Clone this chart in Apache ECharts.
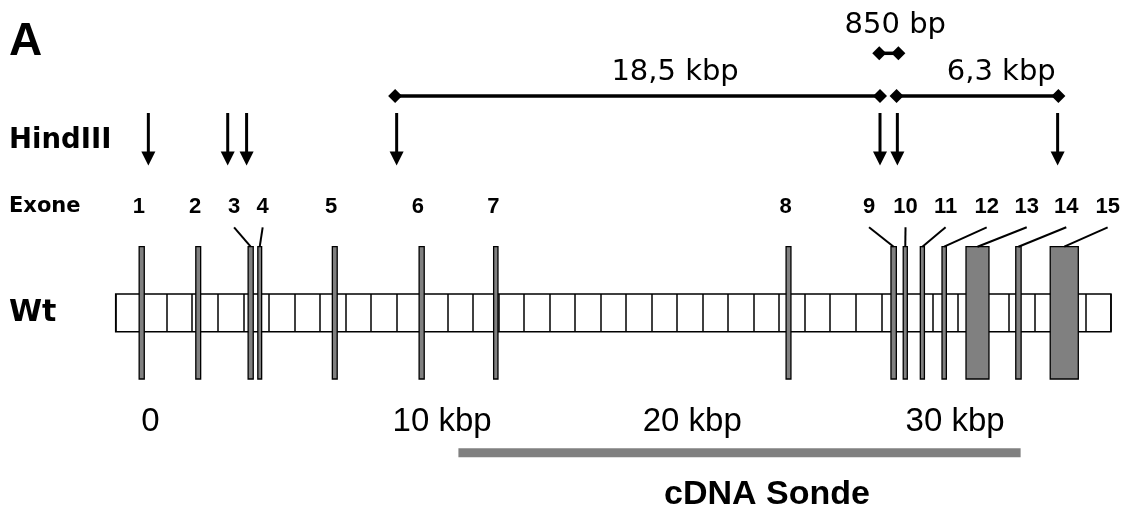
<!DOCTYPE html>
<html><head><meta charset="utf-8">
<script src="https://cdn.jsdelivr.net/npm/echarts@6/dist/echarts.min.js"></script>
<style>html,body{margin:0;padding:0;background:#fff}#c{width:1128px;height:510px}</style>
</head><body><div id="c"></div>
<script>
// ---------------- data (positions in kbp) ----------------
const exonNames    = ['1','2','3','4','5','6','7','8','9','10','11','12','13','14','15'];
const exonStart    = [-0.08, 2.14, 4.19, 4.57, 7.49, 10.89, 13.81, 25.27, 29.38, 29.86, 30.53, 31.38, 32.32, 34.27, 35.62];
const exonEnd      = [ 0.12, 2.33, 4.39, 4.72, 7.68, 11.09, 13.98, 25.46, 29.59, 30.02, 30.69, 31.55, 33.22, 34.48, 36.72];
const exonLabelPos = [-0.09, 2.11, 3.64, 4.76, 7.44, 10.84, 13.80, 25.25, 28.52, 29.95, 31.52, 33.13, 34.70, 36.25, 37.87];
const exonLeader   = [0, 0, 1, 1, 0, 0, 0, 0, 1, 1, 1, 1, 1, 1, 1];

const hindIIISites = [0.28, 3.39, 4.13, 10.01, 28.95, 29.63, 35.91];

const fragmentNames    = ['18,5 kbp', '850 bp', '6,3 kbp'];
const fragmentStart    = [9.95, 28.92, 29.60];
const fragmentEnd      = [28.95, 29.67, 35.94];
const fragmentLabelPos = [20.92, 29.55, 33.70];

const scaleTickLabels = ['0', '10 kbp', '20 kbp', '30 kbp'];
const scaleTickPos    = [0, 9.85, 19.65, 29.95];

const probeName = ['cDNA Sonde'];
const probeStart = [12.43];
const probeEnd = [34.46];
const probeLabelPos = [24.52];

const segmentMin = -1, segmentMax = 38;   // 1-kbp ruler segments of the Wt locus

// ---------------- layout ----------------
const W = 1128, H = 510;
const PX0 = 141.2, PXK = 25.52;      // pixel of 0 kbp, pixels per kbp
const XMIN = -4, XMAX = 38.5;
const gLeft = PX0 + PXK * XMIN;
const gRight = W - (PX0 + PXK * XMAX);
const segLeft = PX0 + PXK * segmentMin;
const segRight = W - (PX0 + PXK * segmentMax);

const ROW = {
  dist: 96, distUpper: 53.3, distLabel: 72.6, distUpperLabel: 25,
  arrowTop: 113, arrowHead: 151.5, arrowTip: 165.5,
  exLabel: 207, leaderTop: 227.3, exTop: 246.7, exBot: 379,
  boxTop: 294, boxH: 37.7,
  scaleLabel: 422, probe: 452.8, probeLabel: 495
};
const fragmentLevel = [0, 1, 0];

const F_REG = '"DejaVu Sans", sans-serif';
const F_ARIAL = '"Liberation Sans", Arial, sans-serif';

const chart = echarts.init(document.getElementById('c'), null, {renderer: 'canvas'});

function diamond(cx, cy, r) {
  return {type: 'polygon', shape: {points: [[cx - r, cy], [cx, cy - r], [cx + r, cy], [cx, cy + r]]}, style: {fill: '#000'}};
}

const option = {
  backgroundColor: '#fff',
  animation: false,
  grid: [
    {left: gLeft, right: gRight, top: 0, height: H, outerBoundsMode: 'none', show: false},
    {left: segLeft, right: segRight, top: ROW.boxTop, height: ROW.boxH, outerBoundsMode: 'none',
     show: true, backgroundColor: '#fff', borderColor: '#000', borderWidth: 1.5}
  ],
  xAxis: [
    {type: 'value', gridIndex: 0, min: XMIN, max: XMAX, show: false},
    {type: 'value', gridIndex: 1, min: segmentMin, max: segmentMax, interval: 1,
     axisLine: {show: false}, axisTick: {show: false}, axisLabel: {show: false},
     splitLine: {show: true, lineStyle: {color: '#000', width: 1.5}}}
  ],
  yAxis: [
    {type: 'value', gridIndex: 0, min: 0, max: H, inverse: true, show: false},
    {type: 'value', gridIndex: 1, min: 0, max: 1, show: false}
  ],
  graphic: [
    {type: 'text', x: 9, y: 42, style: {text: 'A', font: 'bold 46px ' + F_ARIAL, fill: '#000', align: 'left', verticalAlign: 'middle'}},
    {type: 'text', x: 9, y: 141.2, style: {text: 'HindIII', font: 'bold 27.5px ' + F_REG, fill: '#000', align: 'left', verticalAlign: 'middle'}},
    {type: 'text', x: 9, y: 206.6, style: {text: 'Exone', font: 'bold 21px ' + F_REG, fill: '#000', align: 'left', verticalAlign: 'middle'}},
    {type: 'text', x: 9, y: 313.7, style: {text: 'Wt', font: 'bold 30px ' + F_REG, fill: '#000', align: 'left', verticalAlign: 'middle'}}
  ],
  series: [
    { // exons with numbers and leader lines
      type: 'custom', name: 'Exone', xAxisIndex: 0, yAxisIndex: 0, z: 5,
      data: exonNames.map((n, i) => [exonStart[i], exonEnd[i], exonLabelPos[i], exonLeader[i], i]),
      renderItem: function (params, api) {
        const i = api.value(4);
        const a = api.coord([api.value(0), ROW.exTop]);
        const b = api.coord([api.value(1), ROW.exBot]);
        const lp = api.coord([api.value(2), ROW.exLabel]);
        const children = [
          {type: 'rect', shape: {x: a[0], y: a[1], width: b[0] - a[0], height: b[1] - a[1]},
           style: {fill: '#808080', stroke: '#000', lineWidth: 1.3}},
          {type: 'text', style: {text: exonNames[i], x: lp[0], y: lp[1], font: 'bold 22px ' + F_ARIAL,
           fill: '#000', align: 'center', verticalAlign: 'middle'}}
        ];
        if (api.value(3)) {
          const lt = api.coord([api.value(2), ROW.leaderTop]);
          const cx = (a[0] + b[0]) / 2;
          children.push({type: 'line', shape: {x1: lt[0], y1: lt[1], x2: cx, y2: a[1]},
            style: {stroke: '#000', lineWidth: 2}});
        }
        return {type: 'group', children: children};
      }
    },
    { // HindIII sites
      type: 'custom', name: 'HindIII', xAxisIndex: 0, yAxisIndex: 0, z: 5,
      data: hindIIISites.map(v => [v]),
      renderItem: function (params, api) {
        const t = api.coord([api.value(0), ROW.arrowTop]);
        const h = api.coord([api.value(0), ROW.arrowHead]);
        const tip = api.coord([api.value(0), ROW.arrowTip]);
        return {type: 'group', children: [
          {type: 'line', shape: {x1: t[0], y1: t[1], x2: h[0], y2: h[1] + 2}, style: {stroke: '#000', lineWidth: 3}},
          {type: 'polygon', shape: {points: [[h[0] - 7, h[1]], [h[0] + 7, h[1]], [tip[0], tip[1]]]}, style: {fill: '#000'}}
        ]};
      }
    },
    { // HindIII fragment sizes
      type: 'custom', name: 'Fragmente', xAxisIndex: 0, yAxisIndex: 0, z: 5,
      data: fragmentNames.map((n, i) => [fragmentStart[i], fragmentEnd[i], fragmentLabelPos[i], i]),
      renderItem: function (params, api) {
        const i = api.value(3);
        const up = fragmentLevel[i] === 1;
        const yv = up ? ROW.distUpper : ROW.dist;
        const yl = up ? ROW.distUpperLabel : ROW.distLabel;
        const a = api.coord([api.value(0), yv]);
        const b = api.coord([api.value(1), yv]);
        const l = api.coord([api.value(2), yl]);
        return {type: 'group', children: [
          {type: 'line', shape: {x1: a[0], y1: a[1], x2: b[0], y2: b[1]}, style: {stroke: '#000', lineWidth: 3.5}},
          diamond(a[0], a[1], 7), diamond(b[0], b[1], 7),
          {type: 'text', style: {text: fragmentNames[i], x: l[0], y: l[1], font: '29px ' + F_REG,
           fill: '#000', align: 'center', verticalAlign: 'middle'}}
        ]};
      }
    },
    { // scale labels
      type: 'custom', name: 'Skala', xAxisIndex: 0, yAxisIndex: 0, z: 5,
      data: scaleTickLabels.map((t, i) => [scaleTickPos[i], i]),
      renderItem: function (params, api) {
        const p = api.coord([api.value(0), ROW.scaleLabel]);
        return {type: 'text', style: {text: scaleTickLabels[api.value(1)], x: p[0], y: p[1],
          font: '33px ' + F_ARIAL, fill: '#000', align: 'left', verticalAlign: 'middle'}};
      }
    },
    { // cDNA probe
      type: 'custom', name: 'Sonde', xAxisIndex: 0, yAxisIndex: 0, z: 5,
      data: probeName.map((n, i) => [probeStart[i], probeEnd[i], probeLabelPos[i], i]),
      renderItem: function (params, api) {
        const a = api.coord([api.value(0), ROW.probe]);
        const b = api.coord([api.value(1), ROW.probe]);
        const l = api.coord([api.value(2), ROW.probeLabel]);
        return {type: 'group', children: [
          {type: 'line', shape: {x1: a[0], y1: a[1], x2: b[0], y2: b[1]}, style: {stroke: '#808080', lineWidth: 9, lineCap: 'butt'}},
          {type: 'text', style: {text: probeName[api.value(3)], x: l[0], y: l[1], font: 'bold 34px ' + F_ARIAL,
           fill: '#000', align: 'center', verticalAlign: 'middle'}}
        ]};
      }
    }
  ]
};
chart.setOption(option);
</script>
</body></html>
